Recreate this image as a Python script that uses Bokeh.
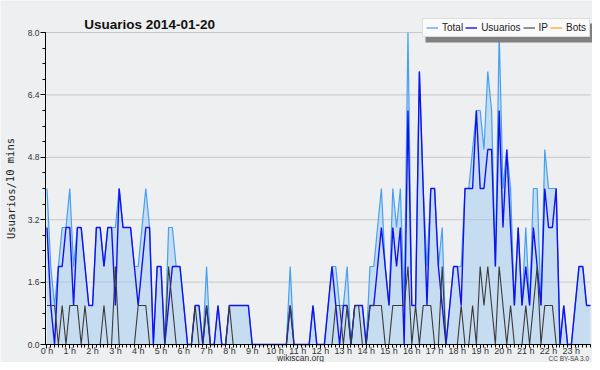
from bokeh.plotting import figure
from bokeh.models import (ColumnDataSource, Range1d, FixedTicker, Label, Legend,
                          LegendItem, BoxAnnotation, NumeralTickFormatter)
from bokeh.embed import file_html
from bokeh.resources import INLINE

# ---- data (one value per 10-minute slot, 2014-01-20) ----
HOUR_LABELS = ["0 h", "1 h", "2 h", "3 h", "4 h", "5 h", "6 h", "7 h", "8 h", "9 h",
               "10 h", "11 h", "12 h", "13 h", "14 h", "15 h", "16 h", "17 h", "18 h",
               "19 h", "20 h", "21 h", "22 h", "23 h"]

TOTAL = [4, 2, 1, 2, 3, 3,   4, 2, 3, 3, 2, 1,   1, 3, 3, 2, 3, 3,   3, 4, 3, 3, 3, 2,
         2, 3, 4, 3, 0, 2,   2, 0, 3, 3, 2, 2,   1, 0, 0, 1, 1, 0,   2, 0, 0, 1, 0, 0,
         1, 1, 1, 1, 1, 1,   0, 0, 0, 0, 0, 0,   0, 0, 0, 0, 2, 0,   0, 0, 0, 0, 1, 0,
         0, 0, 1, 2, 2, 1,   1, 2, 0, 1, 1, 1,   0, 2, 2, 3, 4, 2,   1, 4, 3, 4, 1, 8,
         1, 1, 7, 4, 2, 4,   4, 2, 3, 0, 1, 2,   2, 2, 4, 4, 5, 6,   6, 5, 7, 6, 2, 8,
         4, 5, 4, 1, 3, 1,   3, 1, 4, 4, 1, 5,   4, 4, 4, 0, 1, 0,   0, 1, 2, 2, 1, 1]

USUARIOS = [3, 1, 0, 2, 2, 3,   3, 1, 3, 3, 2, 1,   1, 3, 3, 2, 3, 3,   1, 4, 3, 3, 3, 2,
            1, 2, 3, 3, 0, 2,   2, 0, 1, 2, 2, 2,   1, 0, 0, 1, 1, 0,   1, 0, 0, 1, 0, 0,
            1, 1, 1, 1, 1, 1,   0, 0, 0, 0, 0, 0,   0, 0, 0, 0, 1, 0,   0, 0, 0, 0, 1, 0,
            0, 0, 1, 2, 1, 0,   1, 1, 0, 1, 1, 1,   0, 1, 1, 2, 3, 2,   1, 3, 2, 3, 0, 6,
            1, 1, 7, 4, 1, 4,   4, 2, 1, 0, 1, 2,   2, 1, 4, 4, 4, 6,   4, 4, 5, 5, 2, 6,
            3, 5, 3, 1, 3, 1,   2, 1, 3, 2, 1, 4,   3, 3, 4, 0, 1, 0,   0, 1, 2, 2, 1, 1]

IP = [1, 1, 1, 0, 1, 0,   1, 1, 1, 0, 1, 0,   0, 0, 0, 1, 0, 0,   2, 0, 0, 0, 0, 0,
      1, 1, 1, 0, 0, 0,   0, 0, 2, 1, 0, 0,   0, 0, 0, 1, 0, 0,   1, 0, 0, 0, 0, 0,
      1, 0, 0, 0, 0, 0,   0, 0, 0, 0, 0, 0,   0, 0, 0, 0, 1, 0,   0, 0, 0, 0, 0, 0,
      0, 0, 0, 0, 1, 1,   0, 1, 0, 1, 1, 0,   0, 1, 1, 1, 1, 0,   0, 1, 1, 1, 1, 2,
      0, 1, 0, 1, 1, 1,   0, 0, 2, 0, 0, 0,   0, 1, 0, 0, 1, 0,   2, 1, 2, 1, 0, 2,
      1, 0, 1, 0, 0, 0,   1, 0, 1, 2, 0, 1,   1, 1, 0, 0, 0, 0,   0, 0, 0, 0, 0, 0]

# no bot activity is drawn on this day: a single undefined point keeps the legend entry
BOTS_X = [0]
BOTS_Y = [float("nan")]

SLOTS = list(range(len(TOTAL)))
Y_TICKS = [0.0, 1.6, 3.2, 4.8, 6.4, 8.0]
Y_MINOR = [0.4 * k for k in range(21)]
X_MAJOR = [6 * h for h in range(len(HOUR_LABELS))]

# ---- layout: frame covers the whole canvas, axes pinned with fixed_location ----
W, H = 592, 362
PX_X = 3.8          # pixels per 10-minute slot
PX_Y = 39.0         # pixels per unit
X0_PX, Y0_PX = 45, 344   # screen position of plot origin
X_LEFT = -0.39      # data x at the left edge of the plotting area
X_RIGHT = 143.03    # data x at the right edge of the plotting area

def dx(sx):
    return X_LEFT + (sx - X0_PX) / PX_X

def dy(sy):
    return (Y0_PX - sy) / PX_Y

BG = "#eeeff0"
C_TOTAL = "#45a0f2"
C_USER = "#1212f0"
C_IP = "#3a3a3a"
C_BOTS = "#ffa020"
FONT = "Liberation Sans"

src = ColumnDataSource(dict(x=SLOTS, total=TOTAL, usuarios=USUARIOS, ip=IP))

p = figure(width=W, height=H, title=None,
           x_range=Range1d(dx(0), dx(W)), y_range=Range1d(dy(H), dy(0)),
           output_backend="svg", toolbar_location=None,
           min_border_left=0, min_border_right=0, min_border_top=0, min_border_bottom=0,
           background_fill_color=BG, border_fill_color=BG, outline_line_color=None)

p.xgrid.visible = False
p.ygrid.visible = False

# horizontal grid lines limited to the plotting area
p.segment(x0=[X_LEFT] * len(Y_TICKS), x1=[X_RIGHT] * len(Y_TICKS), y0=Y_TICKS, y1=Y_TICKS,
          line_color="#c8c8c8", line_width=1)

# area + lines
p.varea(x="x", y1=0, y2="total", source=src, fill_color="#9ec9f0", fill_alpha=0.5)
r_total = p.line("x", "total", source=src, line_color=C_TOTAL, line_width=1.2)
r_user = p.line("x", "usuarios", source=src, line_color=C_USER, line_width=1.4)
r_ip = p.line("x", "ip", source=src, line_color=C_IP, line_width=1.1)
r_bots = p.line(x=BOTS_X, y=BOTS_Y, line_color=C_BOTS, line_width=1.2)

# axes
xa = p.xaxis[0]
xa.fixed_location = 0
xa.bounds = (X_LEFT, X_RIGHT)
xa.ticker = FixedTicker(ticks=X_MAJOR, minor_ticks=SLOTS)
xa.major_label_overrides = {t: lab for t, lab in zip(X_MAJOR, HOUR_LABELS)}
ya = p.yaxis[0]
ya.fixed_location = X_LEFT
ya.bounds = (0, 8)
ya.ticker = FixedTicker(ticks=Y_TICKS, minor_ticks=Y_MINOR)
ya.formatter = NumeralTickFormatter(format="0.0")
for ax in (xa, ya):
    ax.axis_line_color = "black"
    ax.axis_line_width = 1
    ax.major_tick_line_color = "black"
    ax.minor_tick_line_color = "black"
    ax.major_tick_in = 0
    ax.minor_tick_in = 0
    ax.major_label_text_font = FONT
    ax.major_label_text_color = "#333333"
xa.major_tick_out = 4
xa.minor_tick_out = 3
xa.major_label_standoff = -3
xa.major_label_text_font_size = "9px"
ya.major_tick_out = 5
ya.minor_tick_out = 3
ya.major_label_standoff = 1
ya.major_label_text_font_size = "8.5px"

# texts
p.add_layout(Label(x=dx(151), y=dy(23.5), text="Usuarios  2014-01-20", text_align="center",
                   text_baseline="alphabetic", text_font=FONT, text_font_style="bold",
                   text_font_size="13.5px", text_color="#111111"))
p.add_layout(Label(x=dx(10), y=dy(188), text="Usuarios/10 mins", angle=1.5708,
                   text_align="center", text_baseline="middle", text_font="DejaVu Sans Mono",
                   text_font_size="10.5px", text_color="#222222"))
p.add_layout(Label(x=dx(300), y=dy(357.5), text="wikiscan.org", text_align="center",
                   text_baseline="middle", text_font=FONT, text_font_size="8.5px",
                   text_color="#333333"))
p.add_layout(Label(x=dx(589), y=dy(358), text="CC BY-SA 3.0", text_align="right",
                   text_baseline="middle", text_font=FONT, text_font_size="6.5px",
                   text_color="#444444"))

# legend with drop shadow
p.add_layout(BoxAnnotation(left=dx(425), right=dx(593), top=dy(23), bottom=dy(42),
                           fill_color="#808080", fill_alpha=1, line_color=None))
leg = Legend(items=[LegendItem(label="Total", renderers=[r_total]),
                    LegendItem(label="Usuarios", renderers=[r_user]),
                    LegendItem(label="IP", renderers=[r_ip]),
                    LegendItem(label="Bots", renderers=[r_bots])],
             location=(422, H - 37), orientation="horizontal",
             label_text_font=FONT, label_text_font_size="10px", label_text_color="#222222",
             glyph_width=12, glyph_height=11, label_height=11, label_width=1,
             label_standoff=4, spacing=2, padding=3, margin=0,
             border_line_color="#c0c0c0", border_line_width=1,
             background_fill_color="#fafafa", background_fill_alpha=1)
p.add_layout(leg)

open("out.html", "w").write(file_html(p, INLINE))
